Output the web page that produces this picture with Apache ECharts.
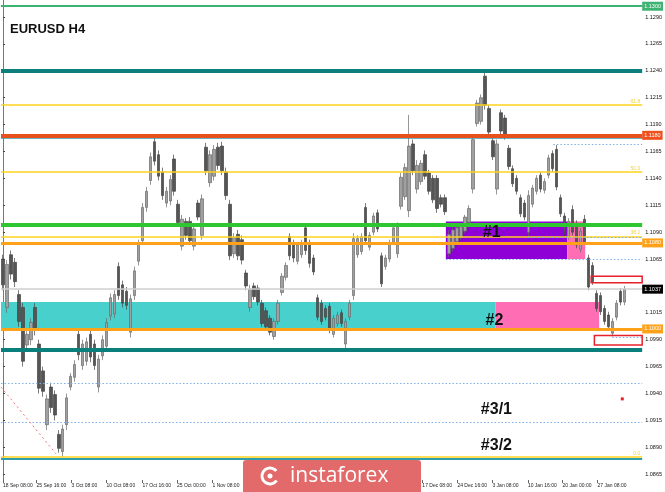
<!DOCTYPE html>
<html><head><meta charset="utf-8">
<script src="https://cdn.jsdelivr.net/npm/echarts@6/dist/echarts.min.js"></script>
<style>html,body{margin:0;padding:0;background:#fff}#c{width:665px;height:492px}</style>
</head><body><div id="c"></div>
<script>
// ---- DATA: H4 candles [open, close, low, high] ----
const candlesSepOct = [
[1.1065,1.1041,1.1036,1.1069],[1.1020,1.1060,1.1015,1.1064],[1.1069,1.1051,1.1046,1.1073],[1.1062,1.1044,1.1039,1.1066],
[1.1032,1.1007,1.1002,1.1036],[1.1020,1.0970,1.0965,1.1024],[1.0985,1.0995,1.0981,1.0999],[1.0990,1.1006,1.0985,1.1010],
[1.1020,1.0999,1.0994,1.1024],[1.0986,1.0945,1.0940,1.0990],[1.0961,1.0942,1.0937,1.0965],[1.0911,1.0935,1.0906,1.0939],
[1.0946,1.0927,1.0922,1.0950],[1.0939,1.0920,1.0915,1.0943],[1.0902,1.0889,1.0885,1.0906],[1.0886,1.0907,1.0881,1.0911],
[1.0911,1.0936,1.0906,1.0940],[1.0946,1.0956,1.0943,1.0959],[1.0955,1.0967,1.0951,1.0971],[1.0995,1.0976,1.0971,1.0999],
[1.0966,1.0986,1.0962,1.0990],[1.0970,1.0988,1.0966,1.0992],[1.0995,1.0974,1.0969,1.0999],[1.0986,1.0966,1.0962,1.0990],
[1.0946,1.0972,1.0941,1.0976],[1.0975,1.0990,1.0971,1.0994],[1.0984,1.1006,1.0980,1.1010],[1.1012,1.1029,1.1008,1.1033],
[1.1014,1.1032,1.1010,1.1036],[1.1058,1.1031,1.1027,1.1062],[1.1041,1.1024,1.1020,1.1045],[1.1035,1.1022,1.1018,1.1039],
[1.0997,1.1028,1.0992,1.1032],[1.1031,1.1054,1.1027,1.1058],[1.1063,1.1079,1.1059,1.1083],[1.1082,1.1113,1.1078,1.1117],
[1.1113,1.1128,1.1109,1.1132],[1.1138,1.1160,1.1134,1.1164],[1.1174,1.1156,1.1152,1.1178],[1.1162,1.1142,1.1138,1.1166]
];
const candlesOctNov = [
[1.1146,1.1124,1.1120,1.1150],[1.1117,1.1128,1.1113,1.1132],[1.1119,1.1139,1.1115,1.1143],[1.1158,1.1128,1.1124,1.1162],
[1.1116,1.1099,1.1095,1.1120],[1.1077,1.1102,1.1073,1.1106],[1.1100,1.1087,1.1083,1.1103],[1.1100,1.1082,1.1078,1.1104],
[1.1077,1.1093,1.1073,1.1097],[1.1117,1.1104,1.1101,1.1120],[1.1087,1.1121,1.1083,1.1125],[1.1169,1.1147,1.1143,1.1173],
[1.1136,1.1162,1.1132,1.1166],[1.1142,1.1167,1.1138,1.1171],[1.1169,1.1152,1.1148,1.1173],[1.1170,1.1147,1.1143,1.1174],
[1.1146,1.1124,1.1120,1.1150],[1.1116,1.1068,1.1064,1.1120],[1.1070,1.1085,1.1066,1.1089],[1.1088,1.1068,1.1064,1.1092],
[1.1083,1.1064,1.1060,1.1087],[1.1052,1.1040,1.1036,1.1055],[1.1020,1.1037,1.1016,1.1041],[1.1040,1.1030,1.1027,1.1043],
[1.1038,1.1025,1.1022,1.1041],[1.1024,1.1005,1.1002,1.1027],[1.1017,1.1002,1.0999,1.1020],[1.1010,1.0997,1.0994,1.1013],
[1.0993,1.1007,1.0990,1.1010],[1.1007,1.1024,1.1004,1.1027],[1.1034,1.1049,1.1031,1.1052],[1.1048,1.1059,1.1045,1.1062],
[1.1086,1.1068,1.1064,1.1089],[1.1080,1.1066,1.1062,1.1083],[1.1063,1.1078,1.1060,1.1081],[1.1069,1.1080,1.1066,1.1083],
[1.1094,1.1073,1.1069,1.1097],[1.1080,1.1061,1.1057,1.1083],[1.1066,1.1053,1.1050,1.1069],[1.1029,1.1011,1.1008,1.1032]
];
const candlesNovDec = [
[1.1024,1.1007,1.1004,1.1027],[1.1019,1.1011,1.1008,1.1022],[1.1021,1.0999,1.0996,1.1024],[1.0995,1.1010,1.0992,1.1013],
[1.1005,1.1013,1.1002,1.1016],[1.1015,1.1005,1.1002,1.1018],[1.0986,1.1007,1.0982,1.1010],[1.1011,1.1024,1.1008,1.1027],
[1.1031,1.1084,1.1027,1.1089],[1.1069,1.1084,1.1066,1.1087],[1.1072,1.1086,1.1069,1.1089],[1.1113,1.1082,1.1078,1.1117],
[1.1076,1.1087,1.1073,1.1090],[1.1090,1.1105,1.1087,1.1108],[1.1108,1.1093,1.1090,1.1111],[1.1068,1.1042,1.1039,1.1071],
[1.1058,1.1066,1.1055,1.1069],[1.1065,1.1080,1.1062,1.1083],[1.1081,1.1094,1.1078,1.1097],[1.1070,1.1095,1.1066,1.1099],
[1.1114,1.1141,1.1111,1.1145],[1.1123,1.1150,1.1120,1.1154],[1.1110,1.1170,1.1104,1.1199],[1.1172,1.1147,1.1143,1.1176],
[1.1130,1.1152,1.1126,1.1157],[1.1137,1.1154,1.1134,1.1157],[1.1162,1.1142,1.1139,1.1166],[1.1145,1.1128,1.1125,1.1148],
[1.1140,1.1120,1.1117,1.1143],[1.1140,1.1112,1.1108,1.1143],[1.1122,1.1116,1.1113,1.1125],[1.1122,1.1109,1.1106,1.1125],
[1.1070,1.1088,1.1067,1.1092],[1.1075,1.1092,1.1072,1.1095],[1.1081,1.1094,1.1078,1.1097],[1.1085,1.1095,1.1083,1.1097],
[1.1091,1.1104,1.1089,1.1106],[1.1099,1.1112,1.1097,1.1115],[1.1130,1.1176,1.1126,1.1180]
];
const candlesDecJan = [
[1.1191,1.1210,1.1188,1.1213],[1.1193,1.1215,1.1190,1.1218],[1.1235,1.1208,1.1204,1.1239],[1.1205,1.1183,1.1180,1.1208],
[1.1175,1.1160,1.1157,1.1178],[1.1130,1.1172,1.1125,1.1176],[1.1201,1.1184,1.1180,1.1204],[1.1196,1.1179,1.1176,1.1199],
[1.1168,1.1151,1.1148,1.1171],[1.1149,1.1135,1.1132,1.1152],[1.1140,1.1128,1.1125,1.1143],[1.1122,1.1107,1.1104,1.1125],
[1.1117,1.1104,1.1101,1.1120],[1.1090,1.1124,1.1086,1.1129],[1.1116,1.1131,1.1113,1.1134],[1.1128,1.1140,1.1125,1.1143],
[1.1143,1.1130,1.1127,1.1146],[1.1129,1.1137,1.1126,1.1140],[1.1143,1.1159,1.1140,1.1162],[1.1163,1.1149,1.1146,1.1166],
[1.1167,1.1132,1.1129,1.1171],[1.1122,1.1107,1.1104,1.1125],[1.1105,1.1089,1.1086,1.1108],[1.1086,1.1100,1.1083,1.1103],
[1.1111,1.1090,1.1087,1.1115],[1.1098,1.1078,1.1075,1.1101],[1.1074,1.1091,1.1071,1.1094],[1.1102,1.1081,1.1078,1.1106],
[1.1066,1.1039,1.1036,1.1069],[1.1059,1.1044,1.1041,1.1062],[1.1033,1.1019,1.1016,1.1036],[1.1031,1.1016,1.1013,1.1034],
[1.1019,1.1007,1.1004,1.1022],[1.1013,1.1002,1.0999,1.1016],[1.0996,1.1007,1.0993,1.1010],[1.1011,1.1024,1.1008,1.1027],
[1.1035,1.1025,1.1022,1.1038],[1.1025,1.1037,1.1022,1.1040]
];
const emptySlots = 4; // chart shift on the right

// y axis tick labels
const yTicks = [1.0865,1.0890,1.0915,1.0940,1.0965,1.0990,1.1015,1.1065,1.1090,1.1115,1.1140,1.1165,1.1190,1.1215,1.1240,1.1265,1.1290];
// x axis tick labels (position in bar-slot units) and texts
const xTickSlots = [0, 8.4, 17.2, 26, 35, 43.7, 52.6, 105.3, 114.1, 122.9, 131.8, 140.5, 149.3];
const xTickLabels = ['18 Sep 08:00','25 Sep 16:00','3 Oct 08:00','10 Oct 08:00','17 Oct 16:00','25 Oct 00:00','1 Nov 08:00',
                     '17 Dec 08:00','24 Dec 16:00','3 Jan 08:00','10 Jan 16:00','20 Jan 00:00','27 Jan 08:00'];

// levels
const resistTop = 1.1300;
const tealLevels = [1.1240, 1.0981];
const redLevel = 1.1180;
const redLevelShadow = 1.1178;
const greenLevel = 1.1097;
const orangeLevels = [1.1080, 1.1000];
const currentPrice = 1.1037;
const fibValues = [1.1208, 1.1146, 1.1086, 1.0881];
const fibNames = ['61.8', '50.0', '38.2', '0.0'];
const bottomTeal = 1.0879;
const dottedFull = [1.0950, 1.0913];
const dottedFrom = [[138.2, 1.1172], [131.7, 1.1085], [111.2, 1.1065], [153, 1.0992]];
// zones [x1, x2, top, bottom]
const zone1 = [111.2, 141.7, 1.1100, 1.1065];
const zone1b = [141.7, 146.2, 1.1100, 1.1065];
const zone2 = [-0.5, 123.7, 1.1025, 1.1001];
const zone2b = [123.7, 149.7, 1.1025, 1.1001];
const redBoxes = [[147.7, 161.6, 1.1049, 1.1043], [148.5, 160.7, 1.0994, 1.0985]];
const diagonal = [[-0.5, 1.0946], [13.3, 1.0884]];
const redDot = [155.5, 1.0935];
const zoneTags = [['#1', 122.7, 1.1090], ['#2', 123.4, 1.1008], ['#3/1', 123.9, 1.0925], ['#3/2', 123.9, 1.0892]];

// ---- build ----
const candles = [].concat(candlesSepOct, candlesOctNov, candlesNovDec, candlesDecJan);
const N = candles.length + emptySlots;
const cats = Array.from({length: N}, (_, i) => 'b' + i);
const FONT = '"Liberation Sans", Arial, sans-serif';

function hLine(v, color, width, extra) {
  return Object.assign({yAxis: v, lineStyle: {color: color, width: width, type: 'solid'}, label: {show: false}}, extra || {});
}
function tag(text, bg, fg) {
  return {show: true, position: 'end', distance: 0, formatter: text, color: fg || '#fff', backgroundColor: bg,
          padding: [2, 2, 1, 2], fontSize: 5.5, fontFamily: FONT};
}

const lineItems = [];
lineItems.push(hLine(resistTop, '#3cb371', 2, {label: tag('1.1300', '#3cb371')}));
tealLevels.forEach(v => lineItems.push(hLine(v, '#0b7f7b', 4)));
lineItems.push(hLine(redLevelShadow, '#3a9aa8', 1.5));
lineItems.push(hLine(redLevel, '#e8501c', 4, {label: tag('1.1180', '#f0501c')}));
fibValues.forEach((v, i) => lineItems.push(hLine(v, '#ffd21c', 1.5, {label: {show: true, position: 'insideEndTop', distance: [2, 1],
  formatter: fibNames[i], color: '#f2d33a', fontSize: 5, fontFamily: FONT}})));
lineItems.push(hLine(bottomTeal, '#2f9fb0', 2));
lineItems.push(hLine(greenLevel, '#2fc72f', 4));
lineItems.push(hLine(orangeLevels[0], '#ffa21a', 3, {label: tag('1.1080', '#ffa21a')}));
lineItems.push(hLine(orangeLevels[1], '#ffa21a', 3, {label: tag('1.1000', '#ffa21a')}));
lineItems.push(hLine(currentPrice, '#cfcfcf', 1.5, {label: tag('1.1037', '#000')}));
dottedFull.forEach(v => lineItems.push({yAxis: v, lineStyle: {color: '#7fb0ea', width: 1, type: [1.5, 2]}, label: {show: false}}));
dottedFrom.forEach(p => lineItems.push([{coord: [p[0], p[1]], lineStyle: {color: '#7fb0ea', width: 1, type: [1.5, 2]}, label: {show: false}},
                                        {coord: [N - 0.5, p[1]]}]));
lineItems.push([{coord: diagonal[0], lineStyle: {color: '#f07878', width: 1, type: [2, 3]}, label: {show: false}}, {coord: diagonal[1]}]);

function zoneItem(z, color) {
  return [{coord: [z[0], z[2]], itemStyle: {color: color}}, {coord: [z[1], z[3]]}];
}

const option = {
  animation: false,
  backgroundColor: '#ffffff',
  grid: {left: 0, right: 22, top: 0, bottom: 12, containLabel: false},
  xAxis: [
    {type: 'category', data: cats, boundaryGap: true, show: false},
    {type: 'value', min: -0.5, max: N - 0.5, position: 'bottom',
     axisLine: {show: false}, splitLine: {show: false},
     axisTick: {show: true, customValues: xTickSlots, length: 3, lineStyle: {color: '#666'}},
     axisLabel: {customValues: xTickSlots, align: 'left', margin: 3, fontSize: 5, color: '#222', fontFamily: FONT,
       formatter: function (val) {
         let best = -1, d = 1e9;
         xTickSlots.forEach((s, i) => { if (Math.abs(s - val) < d) { d = Math.abs(s - val); best = i; } });
         return d < 0.05 ? xTickLabels[best] : '';
       }}}
  ],
  yAxis: {type: 'value', position: 'right', min: 1.08596, max: 1.13058, scale: true,
    axisLine: {show: true, lineStyle: {color: '#777', width: 1}},
    splitLine: {show: false},
    axisTick: {show: true, customValues: yTicks, length: 2, lineStyle: {color: '#444'}},
    axisLabel: {customValues: yTicks, margin: 3, fontSize: 5.5, color: '#111', fontFamily: FONT,
      formatter: v => v.toFixed(4)}},
  series: [
    {type: 'line', xAxisIndex: 1, yAxisIndex: 0, data: [], clip: false, silent: true,
     markArea: {silent: true, z: 1, data: [
       zoneItem(zone1, '#8f00d6'), zoneItem(zone1b, '#ff6eb4'),
       zoneItem(zone2, '#48d1cc'), zoneItem(zone2b, '#ff6eb4')]}},
    {type: 'candlestick', xAxisIndex: 0, yAxisIndex: 0, data: candles, barWidth: 3, z: 2,
     itemStyle: {color: '#a0a0a0', color0: '#555555', borderColor: '#6a6a6a', borderColor0: '#444444', borderWidth: 0.7}},
    {type: 'line', xAxisIndex: 1, yAxisIndex: 0, data: [], clip: false, silent: true,
     markLine: {silent: true, z: 5, symbol: ['none', 'none'], precision: 4, data: lineItems},
     markArea: {silent: true, z: 6, data: redBoxes.map(b => [{coord: [b[0], b[2]],
        itemStyle: {color: 'rgba(0,0,0,0)', borderColor: '#e8202a', borderWidth: 1.5}}, {coord: [b[1], b[3]]}])},
     markPoint: {silent: true, z: 7, data: zoneTags.map(t => ({name: t[0], coord: [t[1], t[2]], symbol: 'rect', symbolSize: 1,
        itemStyle: {color: 'rgba(0,0,0,0)'},
        label: {show: true, position: 'inside', formatter: '{b}', color: '#111', fontSize: 16, fontWeight: 'bold', fontFamily: FONT}}))
        .concat([{coord: redDot, symbol: 'rect', symbolSize: 3, itemStyle: {color: '#e8202a'}, label: {show: false}}])}}
  ],
  graphic: [
    {type: 'text', left: 10, top: 23, z: 10, style: {text: 'EURUSD H4', font: 'bold 13px ' + FONT, fill: '#111'}},
    {type: 'group', left: 243, top: 460, z: 20, children: [
      {type: 'rect', shape: {x: 0, y: 0, width: 178, height: 32, r: [3, 3, 0, 0]}, style: {fill: '#e26a6a'}},
      {type: 'arc', shape: {cx: 27, cy: 16, r: 8, startAngle: 0.6, endAngle: 5.6}, style: {stroke: '#fff', lineWidth: 3, fill: null}},
      {type: 'circle', shape: {cx: 27, cy: 16, r: 2.5}, style: {fill: '#fff'}},
      {type: 'text', x: 47, y: 16, style: {text: 'instaforex', font: '21px "Open Sans", sans-serif', fill: '#fff', verticalAlign: 'middle'}}
    ]}
  ]
};
const chart = echarts.init(document.getElementById('c'), null, {renderer: 'canvas'});
chart.setOption(option);
</script></body></html>
